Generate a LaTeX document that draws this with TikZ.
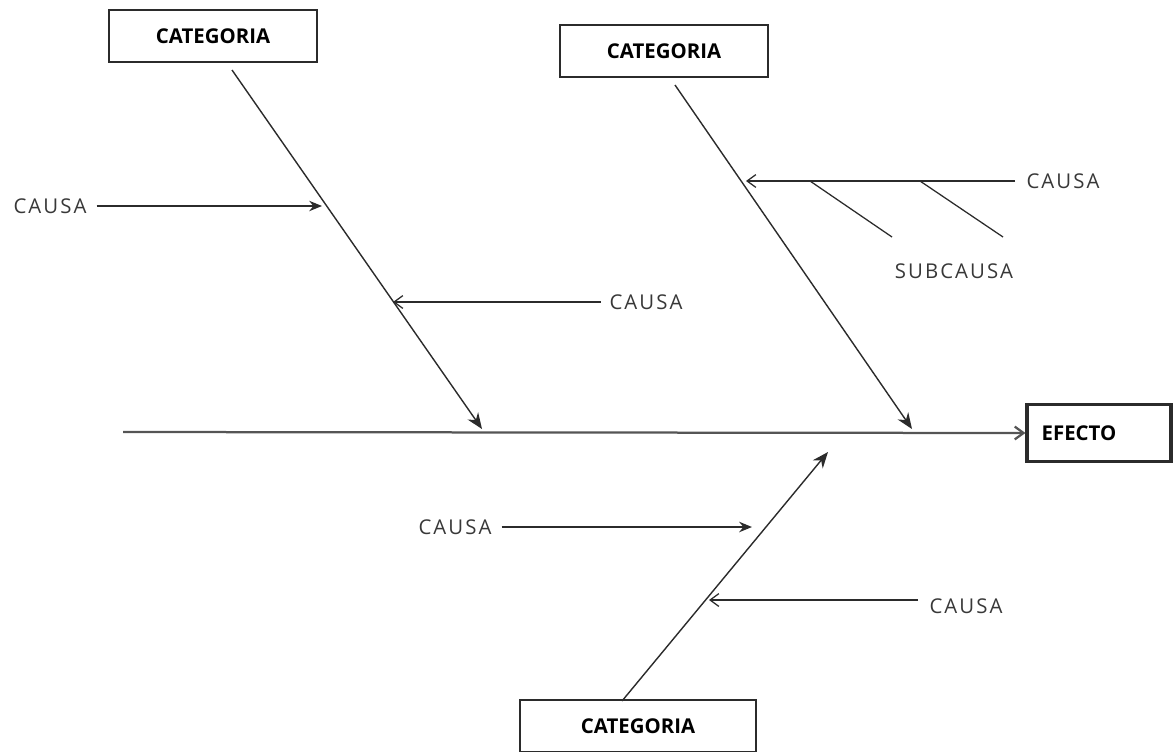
\documentclass[tikz,border=0pt]{standalone}
\usepackage{fontspec}
\setmainfont{Open Sans}
\newfontfamily\causafont[LetterSpace=10]{Open Sans}
\usetikzlibrary{arrows.meta}
\definecolor{cline}{HTML}{2B2B2B}
\definecolor{ctext}{HTML}{383838}
\tikzset{
  catbox/.style={draw=cline, line width=1.1pt, fill=white, minimum width=5.2cm, minimum height=1.3cm, inner sep=0pt, font=\fontsize{14.5}{16}\selectfont\bfseries},
  efbox/.style={catbox, line width=2.2pt, minimum width=3.6cm, minimum height=1.42cm},
  causa/.style={font=\causafont\fontsize{14.5}{16}\selectfont, text=ctext, inner sep=1pt},
  bone/.style={draw=cline, line width=1pt, -{Stealth[length=4mm, width=3.2mm]}},
  cpre/.style={draw=cline, line width=0.9pt, -{Stealth[length=3.2mm, width=2.6mm]}},
  opre/.style={draw=cline, line width=0.9pt, -{Straight Barb[length=2.2mm, width=3.2mm]}},
  sub/.style={draw=cline, line width=0.9pt},
}
\begin{document}
\begin{tikzpicture}[x=0.025cm, y=-0.025cm]
\useasboundingbox (0,0) rectangle (1174,751);
% categorias y efecto
\node[catbox] (cat1) at (213,36) {CATEGORIA};
\node[catbox] (cat2) at (664,51) {CATEGORIA};
\node[catbox, minimum width=5.9cm] (cat3) at (638,726) {CATEGORIA};
\node[efbox] (efecto) at (1099,433) {\hspace*{-1cm}EFECTO};
% espina
\coordinate (spine0) at (123,432);
\draw[draw=cline!80, line width=1.6pt, -{Straight Barb[length=2.2mm, width=3.2mm]}] (spine0) -- (efecto.west);
% huesos
\coordinate (b1) at (232,70);
\coordinate (t1) at (482,429);
\coordinate (b2) at (675,85);
\coordinate (t2) at (912,429);
\coordinate (b3) at (622,701);
\coordinate (t3) at (828,452);
\draw[bone] (b1) -- (t1);
\draw[bone] (b2) -- (t2);
\draw[bone] (b3) -- (t3);
% causas
\node[causa] (c1) at (50,206) {CAUSA};
\node[causa] (c2) at (646,302) {CAUSA};
\node[causa] (c3) at (1063,181) {CAUSA};
\node[causa] (c4) at (455,527) {CAUSA};
\node[causa] (c5) at (966,606) {CAUSA};
\node[causa] (sc) at (954,271) {SUBCAUSA};
\coordinate (k1) at (322,206);
\coordinate (k2) at (393,302);
\coordinate (k3) at (746,181);
\coordinate (k4) at (752,527);
\coordinate (k5) at (709,600);
\draw[cpre, shorten <=6pt] (c1.east |- k1) -- (k1);
\draw[opre, shorten <=5pt] (c2.west |- k2) -- (k2);
\draw[opre, shorten <=7pt] (c3.west |- k3) -- (k3);
\draw[cpre, line width=1.5pt, shorten <=6pt] (c4.east |- k4) -- (k4);
\draw[opre, shorten <=7pt] (c5.west |- k5) -- (k5);
% subcausas
\coordinate (s1) at (810,181);
\coordinate (s2) at (920,181);
\draw[sub] (s1) -- ++(82,56);
\draw[sub] (s2) -- ++(83,56);
\end{tikzpicture}
\end{document}
